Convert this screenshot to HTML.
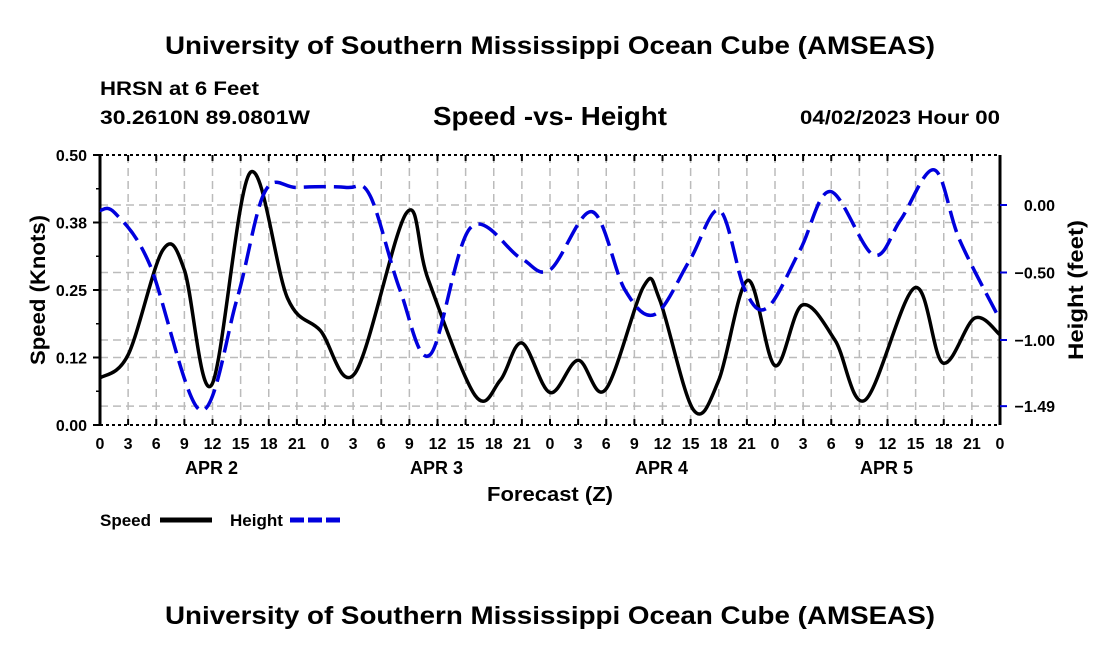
<!DOCTYPE html>
<html><head><meta charset="utf-8"><style>
body{margin:0;background:#fff;}
svg{display:block;font-family:"Liberation Sans",Arial,sans-serif;font-weight:bold;}
</style></head><body>
<svg id="chart" width="1100" height="650" viewBox="0 0 1100 650">
<text x="550" y="54" font-size="25" text-anchor="middle" textLength="770" lengthAdjust="spacingAndGlyphs">University of Southern Mississippi Ocean Cube (AMSEAS)</text>
<text x="100" y="95" font-size="19" textLength="159" lengthAdjust="spacingAndGlyphs">HRSN at 6 Feet</text>
<text x="100" y="124" font-size="19" textLength="210" lengthAdjust="spacingAndGlyphs">30.2610N  89.0801W</text>
<text x="550" y="125" font-size="26" text-anchor="middle" textLength="234" lengthAdjust="spacingAndGlyphs">Speed -vs- Height</text>
<text x="1000" y="124" font-size="19" text-anchor="end" textLength="200" lengthAdjust="spacingAndGlyphs">04/02/2023 Hour 00</text>
<text x="550" y="624" font-size="25" text-anchor="middle" textLength="770" lengthAdjust="spacingAndGlyphs">University of Southern Mississippi Ocean Cube (AMSEAS)</text>
<g id="grid"></g><g id="axes"></g><g id="series"></g>
<text transform="translate(45,290) rotate(-90)" font-size="21" text-anchor="middle" textLength="150" lengthAdjust="spacingAndGlyphs">Speed (Knots)</text>
<text transform="translate(1083,290) rotate(-90)" font-size="21" text-anchor="middle" textLength="140" lengthAdjust="spacingAndGlyphs">Height (feet)</text>
<text x="550" y="501" font-size="20" text-anchor="middle" textLength="126" lengthAdjust="spacingAndGlyphs">Forecast (Z)</text>
<g>
<text x="100" y="526" font-size="17">Speed</text>
<line x1="160" y1="520" x2="212" y2="520" stroke="#000" stroke-width="5"/>
<text x="230" y="526" font-size="17">Height</text>
<line x1="290" y1="520" x2="342" y2="520" stroke="#0000dd" stroke-width="5" stroke-dasharray="14,4"/>
</g>
</svg>
<script>
const speedHours=[0,3,6.7,9,11.9,16,20,23.5,27.2,32.7,35,40,42.7,45,48,51,53.9,58,59.7,63.3,66,69.1,72,74.9,78.4,81.6,86.9,89.9,93.3,96];
const speedVals=[0.087,0.13,0.324,0.287,0.074,0.467,0.235,0.175,0.096,0.393,0.27,0.055,0.083,0.152,0.06,0.12,0.065,0.257,0.232,0.028,0.083,0.268,0.11,0.222,0.157,0.046,0.254,0.115,0.198,0.167];
const heightHours=[0,1.6,5.3,10.7,14.6,17.6,21,26.3,28.8,32,35.2,39.5,44.8,48,52.5,56,59.2,62.9,66.1,68.8,71.2,74.7,77.9,82.5,85.4,89,91.7,96];
const heightVals=[-0.04,-0.06,-0.44,-1.52,-0.70,0.10,0.13,0.13,0.07,-0.63,-1.11,-0.17,-0.39,-0.48,-0.05,-0.63,-0.81,-0.41,-0.04,-0.63,-0.76,-0.33,0.10,-0.37,-0.11,0.26,-0.26,-0.85];
const leftTicks=["0.00","0.12","0.25","0.38","0.50"];
const leftTickVals=[0,0.125,0.25,0.375,0.5];
const rightTicks=["0.00","\u22120.50","\u22121.00","\u22121.49"];
const rightTickVals=[0,-0.5,-1.0,-1.49];
const hourLabels=["0","3","6","9","12","15","18","21"];
const dayLabels=["APR 2","APR 3","APR 4","APR 5"];
const X0=100,X1=1000,Y0=155,Y1=425;
const xs=h=>X0+h*(X1-X0)/96;
const ys=s=>Y1-s*(Y1-Y0)/0.5;
const yh=v=>205-v*135;
const NS="http://www.w3.org/2000/svg";
function mk(parent,tag,attrs){const e=document.createElementNS(NS,tag);for(const k in attrs)e.setAttribute(k,attrs[k]);document.getElementById(parent).appendChild(e);return e;}
for(let h=3;h<96;h+=3){const l=mk('grid','line',{x1:xs(h),x2:xs(h),y1:Y0,y2:Y1,stroke:'#bbb','stroke-width':1.5,'stroke-dasharray':'8,5'});

}
leftTickVals.slice(1,4).forEach(v=>{const l=mk('grid','line',{x1:X0,x2:X1,y1:ys(v),y2:ys(v),stroke:'#bbb','stroke-width':1.5,'stroke-dasharray':'8,5'});

});
rightTickVals.forEach(v=>{const l=mk('grid','line',{x1:X0,x2:X1,y1:yh(v),y2:yh(v),stroke:'#bbb','stroke-width':1.5,'stroke-dasharray':'8,5'});

});
let a=mk('axes','line',{x1:X0,x2:X0,y1:Y0,y2:Y1,stroke:'#000','stroke-width':3});


a=mk('axes','line',{x1:X1,x2:X1,y1:Y0,y2:Y1,stroke:'#000','stroke-width':3});


a=mk('axes','line',{x1:X0,x2:X1,y1:Y0,y2:Y0,stroke:'#000','stroke-width':2,'stroke-dasharray':'3,3'});


a=mk('axes','line',{x1:X0,x2:X1,y1:Y1,y2:Y1,stroke:'#000','stroke-width':2,'stroke-dasharray':'3,3'});


for(let h=0;h<=96;h+=3){
 mk('axes','line',{x1:xs(h),x2:xs(h),y1:Y1,y2:Y1-6,stroke:'#000','stroke-width':2});
 mk('axes','line',{x1:xs(h),x2:xs(h),y1:Y0,y2:Y0+6,stroke:'#000','stroke-width':2});
 const t=mk('axes','text',{x:xs(h),y:449,'font-size':16,'text-anchor':'middle'});
 t.textContent=hourLabels[(h/3)%8];
 
 
}
dayLabels.forEach((d,i)=>{const t=mk('axes','text',{x:xs(24*i+12)-1,y:474,'font-size':18,'text-anchor':'middle'});t.textContent=d;

});
leftTickVals.forEach((v,i)=>{mk('axes','line',{x1:X0-7,x2:X0,y1:ys(v),y2:ys(v),stroke:'#000','stroke-width':2});
 if(i<4)mk('axes','line',{x1:X0-4,x2:X0,y1:ys(v+0.0625),y2:ys(v+0.0625),stroke:'#000','stroke-width':1.5});
 const t=mk('axes','text',{x:X0-13,y:ys(v)+6,'font-size':16,'text-anchor':'end'});t.textContent=leftTicks[i];
 
 });
rightTickVals.forEach((v,i)=>{mk('axes','line',{x1:X1,x2:X1+7,y1:yh(v),y2:yh(v),stroke:'#0000dd','stroke-width':2});
 const t=mk('axes','text',{x:1055,y:yh(v)+6,'font-size':16,'text-anchor':'end'});t.textContent=rightTicks[i];
 
 });
function smooth(pts){let d=`M${pts[0][0]},${pts[0][1]}`;
 for(let i=0;i<pts.length-1;i++){const p0=pts[Math.max(0,i-1)],p1=pts[i],p2=pts[i+1],p3=pts[Math.min(pts.length-1,i+2)];
 d+=` C${p1[0]+(p2[0]-p0[0])/6},${p1[1]+(p2[1]-p0[1])/6} ${p2[0]-(p3[0]-p1[0])/6},${p2[1]-(p3[1]-p1[1])/6} ${p2[0]},${p2[1]}`;}
 return d;}
const sp=mk('series','path',{d:smooth(speedHours.map((h,i)=>[xs(h),ys(speedVals[i])])),fill:'none',stroke:'#000','stroke-width':3.5});


const hp=mk('series','path',{d:smooth(heightHours.map((h,i)=>[xs(h),yh(heightVals[i])])),fill:'none',stroke:'#0000dd','stroke-width':3.5,'stroke-dasharray':'22,8'});


</script>
</body></html>
